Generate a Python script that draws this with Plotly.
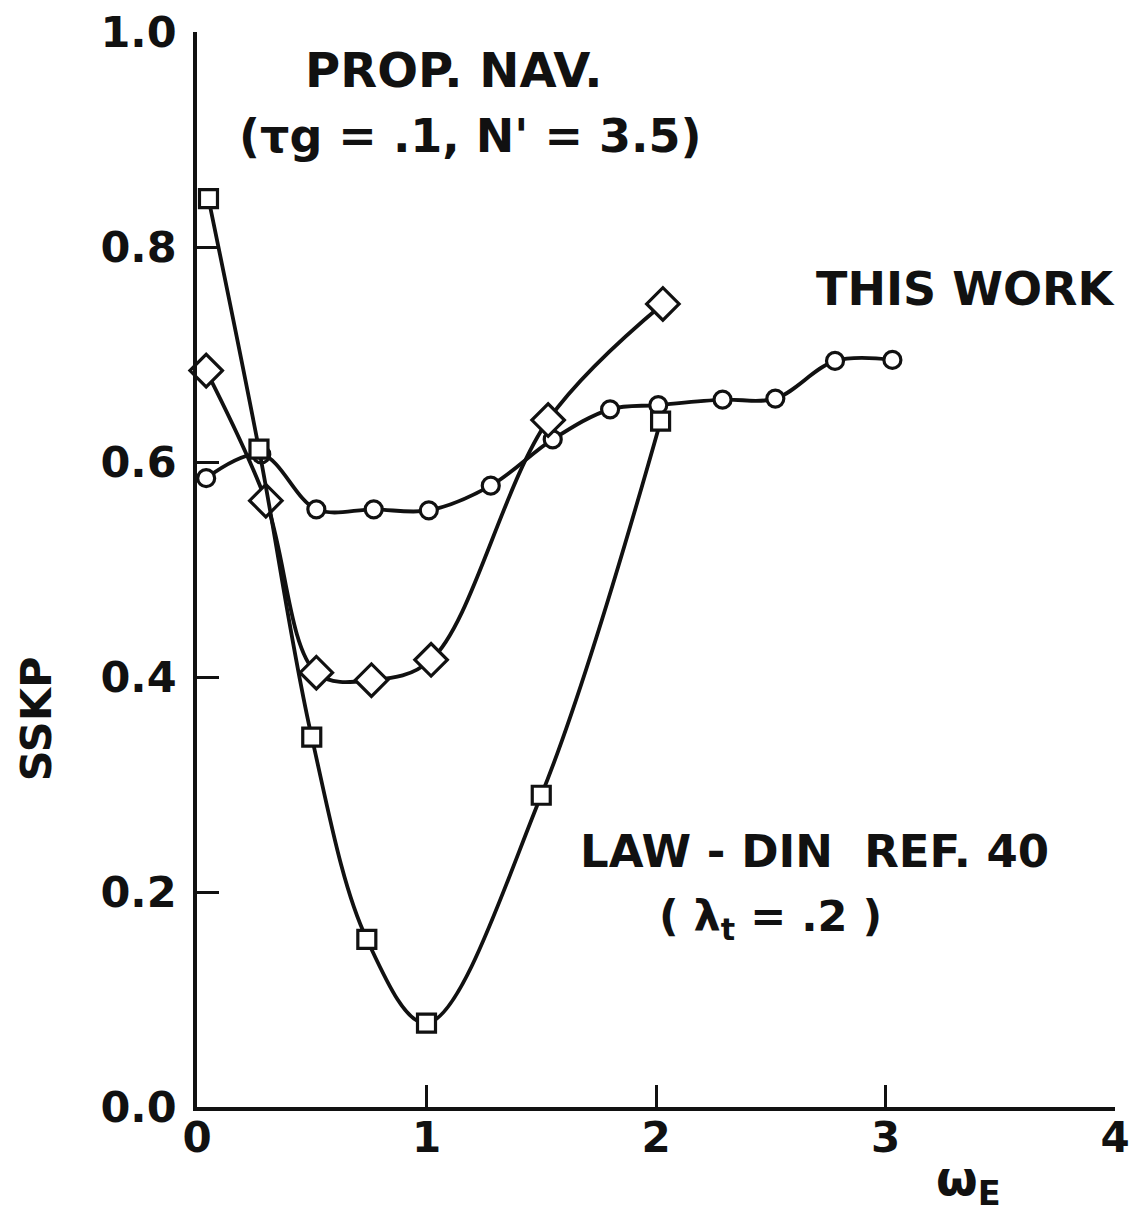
import plotly.graph_objects as go

# ---- data ----
x_circle = [0.04, 0.28, 0.52, 0.77, 1.01, 1.28, 1.55, 1.80, 2.01, 2.29, 2.52, 2.78, 3.03]
y_circle = [0.585, 0.607, 0.556, 0.556, 0.555, 0.578, 0.621, 0.649, 0.653, 0.658, 0.659, 0.694, 0.695]

x_diamond = [0.04, 0.30, 0.52, 0.76, 1.02, 1.53, 2.03]
y_diamond = [0.685, 0.564, 0.404, 0.397, 0.416, 0.639, 0.747]

x_square = [0.05, 0.27, 0.50, 0.74, 1.00, 1.50, 2.02]
y_square = [0.845, 0.612, 0.344, 0.156, 0.078, 0.290, 0.638]

x_ticks = [0, 1, 2, 3, 4]
x_ticklabels = ["0", "1", "2", "3", "4"]
y_ticks = [0.0, 0.2, 0.4, 0.6, 0.8, 1.0]
y_ticklabels = ["0.0", "0.2", "0.4", "0.6", "0.8", "1.0"]

FONT = "DejaVu Sans"
BLACK = "#111111"

fig = go.Figure()

def add_series(x, y, symbol, size):
    fig.add_trace(go.Scatter(
        x=x, y=y, mode="lines+markers",
        line=dict(color=BLACK, width=3.8, shape="spline", smoothing=1.0),
        marker=dict(symbol=symbol, size=size, color="white",
                    line=dict(color=BLACK, width=3.2)),
        showlegend=False, cliponaxis=False,
    ))

add_series(x_circle, y_circle, "circle", 17)
add_series(x_diamond, y_diamond, "diamond", 25)
add_series(x_square, y_square, "square", 18)

def bold(size):
    return dict(family=FONT, size=size, color=BLACK, weight="bold")

annotations = [
    dict(x=1.12, y=0.965, text="PROP. NAV.", font=bold(48)),
    dict(x=1.19, y=0.903, text="(τg = .1, N' = 3.5)", font=bold(46)),
    dict(x=3.35, y=0.761, text="THIS WORK", font=bold(46)),
    dict(x=2.69, y=0.238, text="LAW - DIN  REF. 40", font=bold(45)),
    dict(x=2.50, y=0.175, text="( λ<sub>t</sub> = .2 )", font=bold(43)),
]
for a in annotations:
    fig.add_annotation(xref="x", yref="y", showarrow=False,
                       xanchor="center", yanchor="middle", **a)

fig.add_annotation(xref="paper", yref="paper", x=-0.176, y=0.361,
                   xanchor="center", yanchor="middle",
                   text="SSKP", textangle=-90, showarrow=False, font=bold(43))
fig.add_annotation(xref="paper", yref="paper", x=0.84, y=-0.1,
                   xanchor="center", yanchor="bottom",
                   text="ω<sub>E</sub>", showarrow=False, font=bold(48))

fig.update_xaxes(range=[0, 4], tickvals=x_ticks, ticktext=x_ticklabels,
                 ticks="inside", ticklen=22, tickwidth=3, tickcolor=BLACK,
                 showline=True, linewidth=3.5, linecolor=BLACK, automargin=False,
                 ticklabeloverflow="allow",
                 showgrid=False, zeroline=False, ticklabelstandoff=-9,
                 tickfont=bold(42))
fig.update_yaxes(range=[0, 1], tickvals=y_ticks, ticktext=y_ticklabels,
                 ticks="inside", ticklen=22, tickwidth=3, tickcolor=BLACK,
                 showline=True, linewidth=3.5, linecolor=BLACK, automargin=False,
                 ticklabeloverflow="allow",
                 showgrid=False, zeroline=False, ticklabelstandoff=8,
                 tickfont=bold(43))

# page body adds an 8px offset; compensate so the plot area matches the reference
fig.update_layout(
    width=1122, height=1208,
    margin=dict(l=189, r=15, t=24, b=109),
    plot_bgcolor="white", paper_bgcolor="white",
)

fig.write_html("out.html")
